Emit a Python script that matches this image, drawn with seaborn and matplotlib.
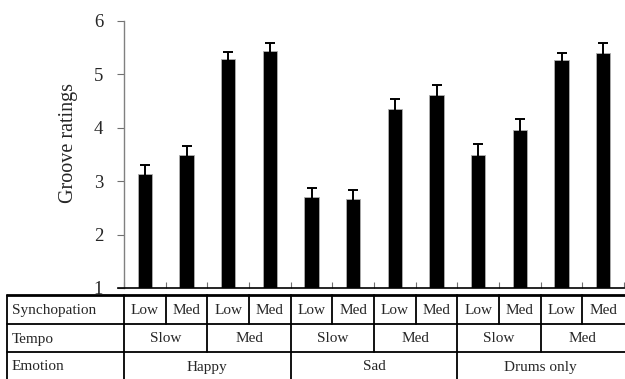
import matplotlib
matplotlib.use("Agg")
import matplotlib.pyplot as plt
import matplotlib.transforms as mtransforms
import numpy as np
import pandas as pd
import seaborn as sns

# Mean groove ratings and standard errors for each condition
emotions = ["Happy", "Sad", "Drums only"]
tempos = ["Slow", "Med"]
syncopations = ["Low", "Med"]
means = [3.13, 3.49, 5.28, 5.44,
         2.70, 2.66, 4.35, 4.62,
         3.49, 3.95, 5.27, 5.41]
sems = [0.18, 0.17, 0.14, 0.15,
        0.18, 0.17, 0.18, 0.19,
        0.21, 0.21, 0.14, 0.17]

sns.set_theme(style="white")
plt.rcParams["font.family"] = ["Liberation Serif", "DejaVu Serif"]

conditions = [f"{e}-{t}-{s}" for e in emotions for t in tempos for s in syncopations]
df = pd.DataFrame({"condition": conditions, "mean": means, "sem": sems})

W, H = 625, 379
fig = plt.figure(figsize=(W / 100, H / 100), dpi=100)
ax_l, ax_r, ax_t, ax_b = 124, 624, 21, 288
ax = fig.add_axes([ax_l / W, 1 - ax_b / H, (ax_r - ax_l) / W, (ax_b - ax_t) / H])

sns.barplot(data=df, x="condition", y="mean", color="black", width=0.34,
            saturation=1, ax=ax, errorbar=None)
for p in ax.patches:
    p.set_edgecolor("#b0b0b0")
    p.set_linewidth(0.6)
ax.errorbar(np.arange(len(conditions)), df["mean"], yerr=df["sem"], fmt="none",
            ecolor="black", elinewidth=1.4, capsize=3.8, capthick=1.4, zorder=3)

ax.set_xlim(-0.5, len(conditions) - 0.5)
ax.set_ylim(1, 6)
ax.set_yticks([1, 2, 3, 4, 5, 6])
ax.set_ylabel("Groove ratings", fontsize=14.5)
ax.yaxis.set_label_coords(-0.092, (ax_b - 143) / (ax_b - ax_t))
ax.set_xlabel("")
ax.set_xticks(np.arange(len(conditions) + 1) - 0.5)
ax.set_xticklabels([])
ax.tick_params(axis="x", direction="in", length=4, width=0.8, color="#707070", bottom=True)
ax.tick_params(axis="y", direction="out", length=5, width=0.8, color="#707070",
               labelsize=13.5, pad=10, left=True)
for s in ["top", "right"]:
    ax.spines[s].set_visible(False)
ax.spines["left"].set_color("#808080")
ax.spines["left"].set_linewidth(1.0)
ax.spines["bottom"].set_color("black")
ax.spines["bottom"].set_linewidth(1.2)
ax.spines["bottom"].set_bounds(-0.65, len(conditions) - 0.5)

# Condition table beneath the bars (x in category units, y in axes fraction)
trans = mtransforms.blended_transform_factory(ax.transData, ax.transAxes)
ph = ax_b - ax_t
def yfrac(py):
    return -(py - ax_b) / ph

cat_w = (ax_r - ax_l) / len(conditions)
x_left = -0.5 - (ax_l - 7) / cat_w
x_right = len(conditions) - 0.5 + 0.05
y_top, y_r1, y_r2, y_bot = yfrac(295), yfrac(324), yfrac(352), yfrac(381)

def hline(y, lw):
    ax.plot([x_left, x_right], [y, y], color="black", lw=lw, transform=trans, clip_on=False)

def vline(x, y0, y1, lw=1.3):
    ax.plot([x, x], [y0, y1], color="black", lw=lw, transform=trans, clip_on=False)

hline(y_top, 2.0)
hline(y_r1, 1.3)
hline(y_r2, 1.3)
vline(x_left, y_top, y_bot)
vline(-0.5, y_top, y_bot)
for k in range(1, len(conditions)):
    if k % 4 == 0:
        vline(k - 0.5, y_top, y_bot)
    elif k % 2 == 0:
        vline(k - 0.5, y_top, y_r2)
    else:
        vline(k - 0.5, y_top, y_r1)

fs = 11
row_labels = ["Synchopation", "Tempo", "Emotion"]
row_centers = [yfrac(310.5), yfrac(339), yfrac(367)]
for lab, yc in zip(row_labels, row_centers):
    ax.text(x_left + 5 / cat_w, yc, lab, transform=trans, ha="left", va="center", fontsize=fs)

n_t, n_s = len(tempos), len(syncopations)
for i, c in enumerate(conditions):
    s = syncopations[i % n_s]
    ax.text(i, row_centers[0], s, transform=trans, ha="center", va="center", fontsize=fs)
for j in range(len(emotions) * n_t):
    t = tempos[j % n_t]
    xc = j * n_s + (n_s - 1) / 2
    ax.text(xc, row_centers[1], t, transform=trans, ha="center", va="center", fontsize=fs)
for e_i, e in enumerate(emotions):
    xc = e_i * n_t * n_s + (n_t * n_s - 1) / 2
    ax.text(xc, row_centers[2], e, transform=trans, ha="center", va="center", fontsize=fs)

fig.savefig("out.png", dpi=100)
